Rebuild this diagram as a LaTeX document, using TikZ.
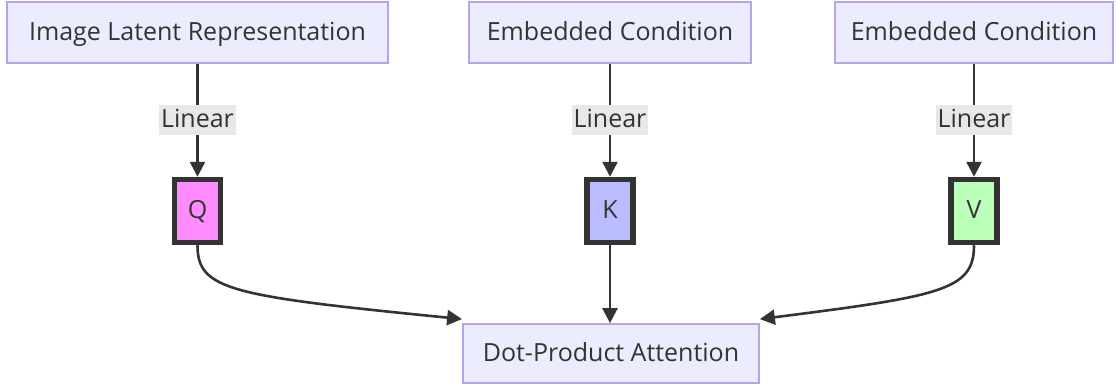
\documentclass[tikz,border=0pt]{standalone}
\usepackage{fontspec}
\setmainfont{Open Sans}
\usetikzlibrary{arrows.meta}
\definecolor{boxfill}{HTML}{ECECFF}
\definecolor{boxline}{HTML}{B9A2EC}
\definecolor{ink}{HTML}{333333}
\definecolor{lblbg}{HTML}{E8E8E8}
\definecolor{qfill}{HTML}{FF8CFF}
\definecolor{kfill}{HTML}{BBBBFF}
\definecolor{vfill}{HTML}{BBFFBB}
\begin{document}
\begin{tikzpicture}[x=1pt,y=-1pt,
  every node/.style={font=\fontsize{25}{30}\selectfont, text=ink, text height=18pt, text depth=3pt},
  bigbox/.style={draw=boxline, fill=boxfill, line width=1.8pt, minimum height=61pt, inner sep=0pt},
  vec/.style={draw=ink, line width=5.5pt, minimum width=46pt, minimum height=63pt, inner sep=0pt},
  lbl/.style={fill=lblbg, inner sep=2pt, minimum height=30pt},
  conn/.style={draw=ink, line width=2.6pt, -{Triangle[length=15pt,width=15pt]}}
]
\useasboundingbox (0,0) rectangle (1116,388);
\node[bigbox, minimum width=381pt] (img) at (197.5,32.5) {Image Latent Representation};
\node[bigbox, minimum width=282pt] (ec1) at (610,32.5) {Embedded Condition};
\node[bigbox, minimum width=278pt] (ec2) at (974,32.5) {Embedded Condition};
\node[vec, fill=qfill] (Q) at (197.5,211) {Q};
\node[vec, fill=kfill] (K) at (610,211) {K};
\node[vec, fill=vfill] (V) at (974,211) {V};
\node[bigbox, minimum width=296pt, minimum height=59pt] (dot) at (611,353.5) {Dot-Product Attention};
\path[conn] (img.south) -- node[lbl] {Linear} (Q.north);
\path[conn] (ec1.south) -- node[lbl] {Linear} (K.north);
\path[conn] (ec2.south) -- node[lbl] {Linear} (V.north);
\path[conn] (Q.south) .. controls (197.5,290) and (230,296) .. ([yshift=4pt]dot.north west);
\path[conn] (K.south) -- (dot.north -| K.south);
\path[conn] (V.south) .. controls (974,290) and (942,296) .. ([yshift=4pt]dot.north east);
\end{tikzpicture}
\end{document}
